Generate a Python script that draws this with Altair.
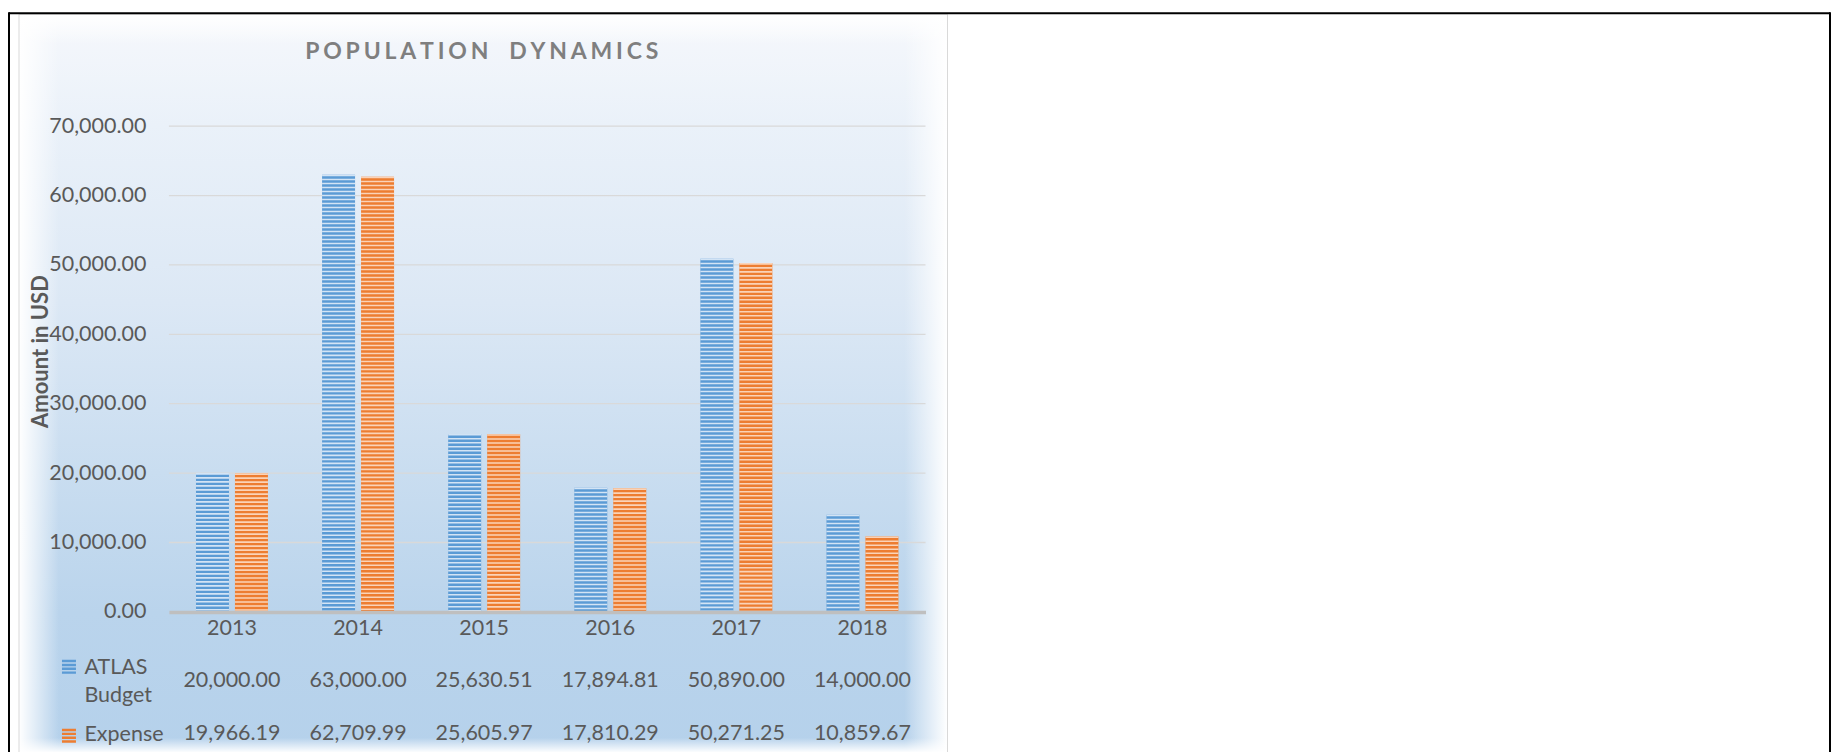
import altair as alt
import pandas as pd

# ---------------- data ----------------
years = ["2013", "2014", "2015", "2016", "2017", "2018"]
series = ["ATLAS Budget", "Expense"]
atlas_budget = [20000.00, 63000.00, 25630.51, 17894.81, 50890.00, 14000.00]
expense = [19966.19, 62709.99, 25605.97, 17810.29, 50271.25, 10859.67]
y_ticks = [0, 10000, 20000, 30000, 40000, 50000, 60000, 70000]
title_text = "POPULATION DYNAMICS"
y_title = "Amount in USD"

bar_colors = ["#5B9BD5", "#ED7D31"]
stripe_colors = ["#D3E4F5", "#FAD3B8"]

rows = []
for s, vals in zip(series, [atlas_budget, expense]):
    for yr, v in zip(years, vals):
        rows.append({"year": yr, "series": s, "value": v})
df = pd.DataFrame(rows)
ticks_df = pd.DataFrame({"tick": y_ticks[1:]})
one = pd.DataFrame({"k": [0]})

# ---------------- style ----------------
W, H = 757, 486
FONT = "Lato"
TXT = "#595959"

# letter-spaced title (six-per-em spaces between letters)
SP = "\u2006"
spaced_title = (" ".join(SP.join(list(w)) for w in title_text.split(" "))
                .replace(" ", SP + SP + " " + SP + SP))

x_scale = alt.Scale(domain=years, paddingInner=0.4293, paddingOuter=0.2147)
xo_scale = alt.Scale(domain=series, paddingInner=0.1538, paddingOuter=0)
y_scale = alt.Scale(domain=[0, 70000], nice=False, zero=True)

y_axis = alt.Axis(
    values=y_ticks, format=",.2f", grid=False, domain=False, ticks=False,
    labelFont=FONT, labelFontSize=21.5, labelColor=TXT, labelPadding=23,
    title=y_title, titleFont=FONT, titleFontSize=22, titleFontWeight="bold",
    titleColor=TXT, titleX=-128, titleY=225, titleAngle=270,
    titleAlign="center", titleBaseline="middle", zindex=1,
)
x_axis = alt.Axis(
    title=None, labelAngle=0, grid=False, ticks=False, domain=True,
    domainColor="#BFBFBF", domainWidth=3.5, labelFont=FONT, labelFontSize=21.5,
    labelColor=TXT, labelPadding=6, zindex=1,
)

stripe_path = ("M-1,-1H1V-0.65H-1Z M-1,-0.45H1V-0.1H-1Z "
               "M-1,0.1H1V0.45H-1Z M-1,0.65H1V1H-1Z")

legend = alt.Legend(
    orient="none", legendX=-107, legendY=534, title=None, labelExpr="''",
    symbolType=stripe_path, symbolSize=196, symbolStrokeWidth=0,
    rowPadding=55, direction="vertical", padding=0, symbolOpacity=1,
)

# ---------------- decorations ----------------
panel = alt.Chart(one).mark_rect(
    fill=alt.Gradient(
        gradient="linear", x1=0, x2=0, y1=0, y2=1,
        stops=[
            alt.GradientStop(color="#F6F8FC", offset=0.0),
            alt.GradientStop(color="#EAF1F9", offset=0.15),
            alt.GradientStop(color="#DCE8F5", offset=0.39),
            alt.GradientStop(color="#C9DDF0", offset=0.62),
            alt.GradientStop(color="#BAD4EC", offset=0.81),
            alt.GradientStop(color="#B5D1EB", offset=1.0),
        ],
    )
).encode(x=alt.value(-150), x2=alt.value(779), y=alt.value(-112), y2=alt.value(627))


def fade(x1, x2, y1, y2, gx1, gx2, gy1, gy2):
    return alt.Chart(one).mark_rect(
        fill=alt.Gradient(
            gradient="linear", x1=gx1, x2=gx2, y1=gy1, y2=gy2,
            stops=[
                alt.GradientStop(color="rgba(255,255,255,1)", offset=0.0),
                alt.GradientStop(color="rgba(255,255,255,0.6)", offset=0.4),
                alt.GradientStop(color="rgba(255,255,255,0)", offset=1.0),
            ],
        )
    ).encode(x=alt.value(x1), x2=alt.value(x2), y=alt.value(y1), y2=alt.value(y2))


fade_left = fade(-150, -110, -112, 627, 0, 1, 0, 0)
fade_right = fade(736, 779, -112, 627, 1, 0, 0, 0)
fade_top = fade(-150, 779, -112, -82, 0, 0, 0, 1)
fade_bottom = fade(-150, 779, 612, 627, 0, 0, 1, 0)

border = alt.Chart(one).mark_rect(
    fillOpacity=0, stroke="#D9D9D9", strokeWidth=1
).encode(x=alt.value(-150), x2=alt.value(779), y=alt.value(-112), y2=alt.value(640))

frame_top = alt.Chart(one).mark_rule(color="black", strokeWidth=2).encode(
    x=alt.value(-160), x2=alt.value(1662), y=alt.value(-113))
frame_left = alt.Chart(one).mark_rule(color="black", strokeWidth=2).encode(
    x=alt.value(-160), y=alt.value(-114), y2=alt.value(640))
frame_right = alt.Chart(one).mark_rule(color="black", strokeWidth=2).encode(
    x=alt.value(1662), y=alt.value(-114), y2=alt.value(640))

title = alt.Chart(one).mark_text(
    text=spaced_title, font=FONT, fontSize=23, fontWeight="bold",
    color="#7F7F7F", align="center", baseline="middle",
).encode(x=alt.value(313), y=alt.value(-74))

# ---------------- chart ----------------
grid = alt.Chart(ticks_df).mark_rule(color="#D9D9D9", strokeWidth=1.3).encode(
    y=alt.Y("tick:Q", scale=y_scale, axis=y_axis)
)

bars = alt.Chart(df).mark_bar().encode(
    x=alt.X("year:N", scale=x_scale, axis=x_axis, sort=years),
    xOffset=alt.XOffset("series:N", scale=xo_scale, sort=series),
    y=alt.Y("value:Q", scale=y_scale, axis=y_axis),
    fill=alt.Fill("series:N", scale=alt.Scale(domain=series, range=bar_colors),
                  legend=legend),
)

stripes = alt.Chart(df).mark_rule(strokeWidth=33, strokeDash=[1.6, 2.4],
                                  strokeCap="butt").encode(
    x=alt.X("year:N", scale=x_scale, axis=x_axis, sort=years),
    xOffset=alt.XOffset("series:N", scale=xo_scale, sort=series),
    y=alt.Y("value:Q", scale=y_scale, axis=y_axis),
    y2=alt.datum(0),
    stroke=alt.Stroke("series:N", scale=alt.Scale(domain=series, range=stripe_colors),
                      legend=None),
)

main = alt.layer(
    panel, fade_left, fade_right, fade_top, fade_bottom, border,
    frame_top, frame_left, frame_right, title, grid, bars, stripes,
).properties(width=W, height=H)

row_axis = alt.Axis(
    title=None, domain=False, ticks=False, labelAlign="left",
    labelPadding=85, labelFont=FONT, labelFontSize=21.5,
    labelColor=TXT, labelLineHeight=28, labelLimit=300,
    labelOffset={"condition": {"test": "datum.value == 'ATLAS Budget'", "value": -14},
                 "value": 0},
    labelExpr="datum.value == 'ATLAS Budget' ? ['ATLAS','Budget'] : datum.value",
)

table = alt.Chart(df).mark_text(
    font=FONT, fontSize=21.5, color=TXT, align="center", baseline="middle"
).encode(
    x=alt.X("year:N", scale=x_scale, axis=None, sort=years),
    y=alt.Y("series:N", scale=alt.Scale(domain=series, paddingInner=0, paddingOuter=0),
            axis=row_axis),
    text=alt.Text("value:Q", format=",.2f"),
).properties(width=W, height=106)

chart = alt.vconcat(main, table, spacing=43, bounds="flush").properties(
    padding={"left": 0, "top": 3, "right": 0, "bottom": 0},
    background="white",
).configure_view(stroke=None)

chart.save("out.html", embed_options={"renderer": "svg", "actions": False})
